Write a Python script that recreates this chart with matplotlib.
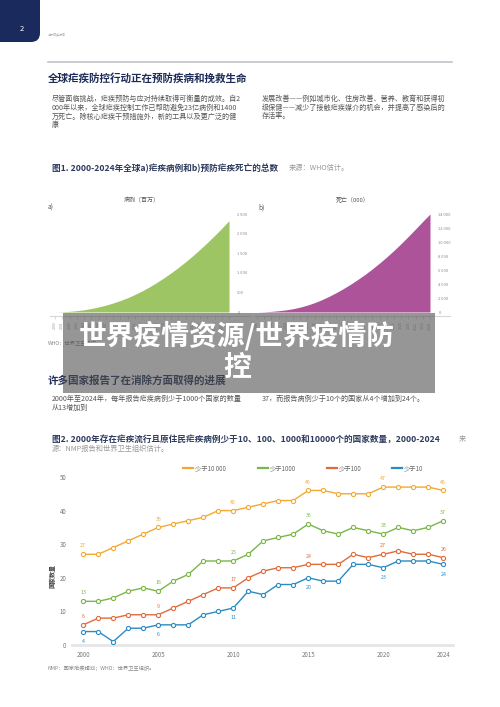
import matplotlib
matplotlib.use("Agg")
import matplotlib.pyplot as plt
from matplotlib.patches import Rectangle, FancyBboxPatch
from matplotlib.lines import Line2D

plt.rcParams['font.family'] = ['Noto Sans CJK SC', 'DejaVu Sans']

# data
years = list(range(2000, 2025))
cases_cum = [0, 6, 17, 34, 57, 89, 128, 174, 229, 291, 363, 446, 537, 638, 749,
             869, 997, 1134, 1280, 1434, 1598, 1769, 1949, 2135, 2330]
deaths_cum = [0, 30, 90, 180, 300, 470, 700, 990, 1340, 1760, 2240, 2770, 3350, 3980, 4660,
              5380, 6160, 6990, 7870, 8800, 9780, 10810, 11870, 12950, 14000]

under_10000 = [27, 27, 29, 31, 33, 35, 36, 37, 38, 40, 40, 41, 42, 43, 43, 46, 46, 45, 45, 45, 47, 47, 47, 47, 46]
under_1000 = [13, 13, 14, 16, 17, 16, 19, 21, 25, 25, 25, 27, 31, 32, 33, 36, 34, 33, 35, 34, 33, 35, 34, 35, 37]
under_100 = [6, 8, 8, 9, 9, 9, 11, 13, 15, 17, 17, 20, 22, 23, 23, 24, 24, 24, 27, 26, 27, 28, 27, 27, 26]
under_10 = [4, 4, 1, 5, 5, 6, 6, 6, 9, 10, 11, 16, 15, 18, 18, 20, 19, 19, 24, 24, 23, 25, 25, 25, 24]
series_names = ["少于10 000", "少于1000", "少于100", "少于10"]
label_years = [2000, 2005, 2010, 2015, 2020, 2024]

cases_ticks = [0, 500, 1000, 1500, 2000, 2500]
deaths_ticks = [0, 2000, 4000, 6000, 8000, 10000, 12000, 14000]
count_ticks = [0, 10, 20, 30, 40, 50]
year_ticks = [2000, 2005, 2010, 2015, 2020, 2024]

W, H = 500, 707
fig = plt.figure(figsize=(5, 7.07), dpi=100)


def rect(l, t, r, b):
    return [l / W, 1 - b / H, (r - l) / W, (b - t) / H]


def fmt(v):
    return f"{v:,}".replace(",", " ")


navy = "#1d2b57"
body = "#555555"

# page layer
page = fig.add_axes([0, 0, 1, 1])
page.set_xlim(0, W)
page.set_ylim(H, 0)
page.axis('off')

page.add_patch(FancyBboxPatch((-30, -30), 70, 72, boxstyle="round,pad=0,rounding_size=9",
                              facecolor="#1b2a5c", edgecolor="none"))
page.text(22, 29, "2", color="white", fontsize=5.5, ha="center", va="center")
page.text(48, 34, "世界疟疾报告", color="#aaaaaa", fontsize=2.2, va="center")
page.plot([48, 452], [61.7, 61.7], color="#c2c2ca", lw=1.2)

page.text(48, 78, "全球疟疾防控行动正在预防疾病和挽救生命", color=navy, fontsize=7.6,
          weight="bold", va="center")
left_lines = ["尽管面临挑战，疟疾预防与应对持续取得可衡量的成效。自2",
              "000年以来，全球疟疾控制工作已帮助避免23亿病例和1400",
              "万死亡。除核心疟疾干预措施外，新的工具以及更广泛的健",
              "康"]
right_lines = ["发展改善——例如城市化、住房改善、营养、教育和获得初",
               "级保健——减少了接触疟疾媒介的机会，并提高了感染后的",
               "存活率。"]
for i, s in enumerate(left_lines):
    page.text(52, 99 + i * 8.7, s, color=body, fontsize=5.1, va="center")
for i, s in enumerate(right_lines):
    page.text(262, 99 + i * 8.7, s, color=body, fontsize=5.1, va="center")

page.text(52, 168, "图1. 2000-2024年全球a)疟疾病例和b)预防疟疾死亡的总数", color="#2d3b5e",
          fontsize=6.2, weight="bold", va="center")
page.text(289, 168, "来源：WHO估计。", color="#999999", fontsize=5.2, style="italic", va="center")

page.text(142, 200, "病例（百万）", color="#555555", fontsize=4.3, ha="center", va="center")
page.text(48, 208, "a)", color="#555555", fontsize=4.8, va="center")
page.text(353, 200, "死亡（000）", color="#555555", fontsize=4.3, ha="center", va="center")
page.text(258, 208, "b)", color="#555555", fontsize=4.8, va="center")
page.plot([50, 250], [316, 316], color="#d8d8d8", lw=0.8)
page.plot([255, 450], [316, 316], color="#d8d8d8", lw=0.8)
page.text(48, 343, "WHO：世界卫生组织。", color="#888888", fontsize=3.8, va="center")

page.text(48, 380, "许多国家报告了在消除方面取得的进展", color=navy, fontsize=7.6,
          weight="bold", va="center")
page.text(52, 399, "2000年至2024年，每年报告疟疾病例少于1000个国家的数量", color=body,
          fontsize=5.1, va="center")
page.text(52, 408, "从13增加到", color=body, fontsize=5.1, va="center")
page.text(262, 399, "37，而报告病例少于10个的国家从4个增加到24个。", color=body,
          fontsize=5.1, va="center")

page.text(52, 439, "图2. 2000年存在疟疾流行且原住民疟疾病例少于10、100、1000和10000个的国家数量，2000-2024",
          color="#2d3b5e", fontsize=6.2, weight="bold", va="center")
page.text(459, 439, "来", color="#999999", fontsize=5.2, style="italic", va="center")
page.text(52, 449, "源：NMP报告和世界卫生组织估计。", color="#999999", fontsize=5.2,
          style="italic", va="center")
page.text(52, 576, "国家数量", color="#444444", fontsize=4.3, rotation=90,
          ha="center", va="center", weight="bold")
page.text(48, 668, "NMP：国家疟疾规划；WHO：世界卫生组织。", color="#888888", fontsize=3.8, va="center")

# figure 1 area charts
for box, vals, ticks, col in [((55, 214, 229, 312), cases_cum, cases_ticks, "#9dc563"),
                              ((257, 214, 430, 312), deaths_cum, deaths_ticks, "#ad5399")]:
    ax = fig.add_axes(rect(*box))
    ax.fill_between(years, vals, color=col, lw=0)
    ax.set_xlim(2000, 2024)
    ax.set_ylim(0, ticks[-1])
    ax.patch.set_alpha(0)
    for s in ["top", "left", "right"]:
        ax.spines[s].set_visible(False)
    ax.spines["bottom"].set_position(("outward", 3))
    ax.spines["bottom"].set_color("#d8d8d8")
    ax.spines["bottom"].set_linewidth(0.6)
    ax.yaxis.tick_right()
    ax.set_yticks(ticks)
    ax.set_yticklabels([fmt(t) for t in ticks])
    ax.tick_params(axis="y", length=0, pad=6, labelsize=2.9, labelcolor="#888888")
    ax.set_xticks(years)
    ax.set_xticklabels([str(y) for y in years], rotation=90)
    ax.tick_params(axis="x", length=2, width=0.4, color="#bbbbbb", pad=2,
                   labelsize=2.5, labelcolor="#999999")

# figure 2 line chart
ax2 = fig.add_axes(rect(72, 477, 453, 645))
ax2.patch.set_alpha(0)
colors = ["#f2a933", "#7ab648", "#e06c3c", "#2a8cc3"]
all_series = [under_10000, under_1000, under_100, under_10]
for name, vals, col in zip(series_names, all_series, colors):
    ax2.plot(years, vals, color=col, lw=1.0, marker="o", markersize=3,
             markerfacecolor="white", markeredgewidth=0.8, clip_on=False, zorder=3)
    below = vals is under_10
    for yr in label_years:
        v = vals[years.index(yr)]
        ax2.annotate(str(v), (yr, v), xytext=(0, -7 if below else 6), textcoords="offset points",
                     ha="center", va="center", fontsize=3.8, color=col, weight="medium")
ax2.set_xlim(1999.25, 2024.65)
ax2.set_ylim(0, 50)
for s in ["top", "left", "right"]:
    ax2.spines[s].set_visible(False)
ax2.spines["bottom"].set_color("#e6e6e6")
ax2.spines["bottom"].set_linewidth(2)
ax2.set_yticks(count_ticks)
ax2.set_xticks(year_ticks)
ax2.tick_params(axis="both", length=0, labelsize=4.4, labelcolor="#777777")
ax2.tick_params(axis="y", pad=4)
ax2.tick_params(axis="x", pad=4)

# legend
for name, col, x0 in zip(series_names, colors, [183, 258, 327, 392]):
    page.plot([x0, x0 + 10], [468, 468], color=col, lw=1.6)
    page.text(x0 + 12, 468, name, color="#666666", fontsize=4.5, va="center")

# overlay banner on top
top = fig.add_axes([0, 0, 1, 1])
top.set_xlim(0, W)
top.set_ylim(H, 0)
top.axis('off')
top.patch.set_alpha(0)
top.add_patch(Rectangle((63, 313), 372, 80, facecolor="#505050", alpha=0.6, edgecolor="none"))
top.text(237, 336, "世界疫情资源/世界疫情防", color="white", fontsize=20, weight="bold",
         ha="center", va="center")
top.text(237, 368, "控", color="white", fontsize=20, weight="bold", ha="center", va="center")

fig.savefig("out.png", dpi=100)
